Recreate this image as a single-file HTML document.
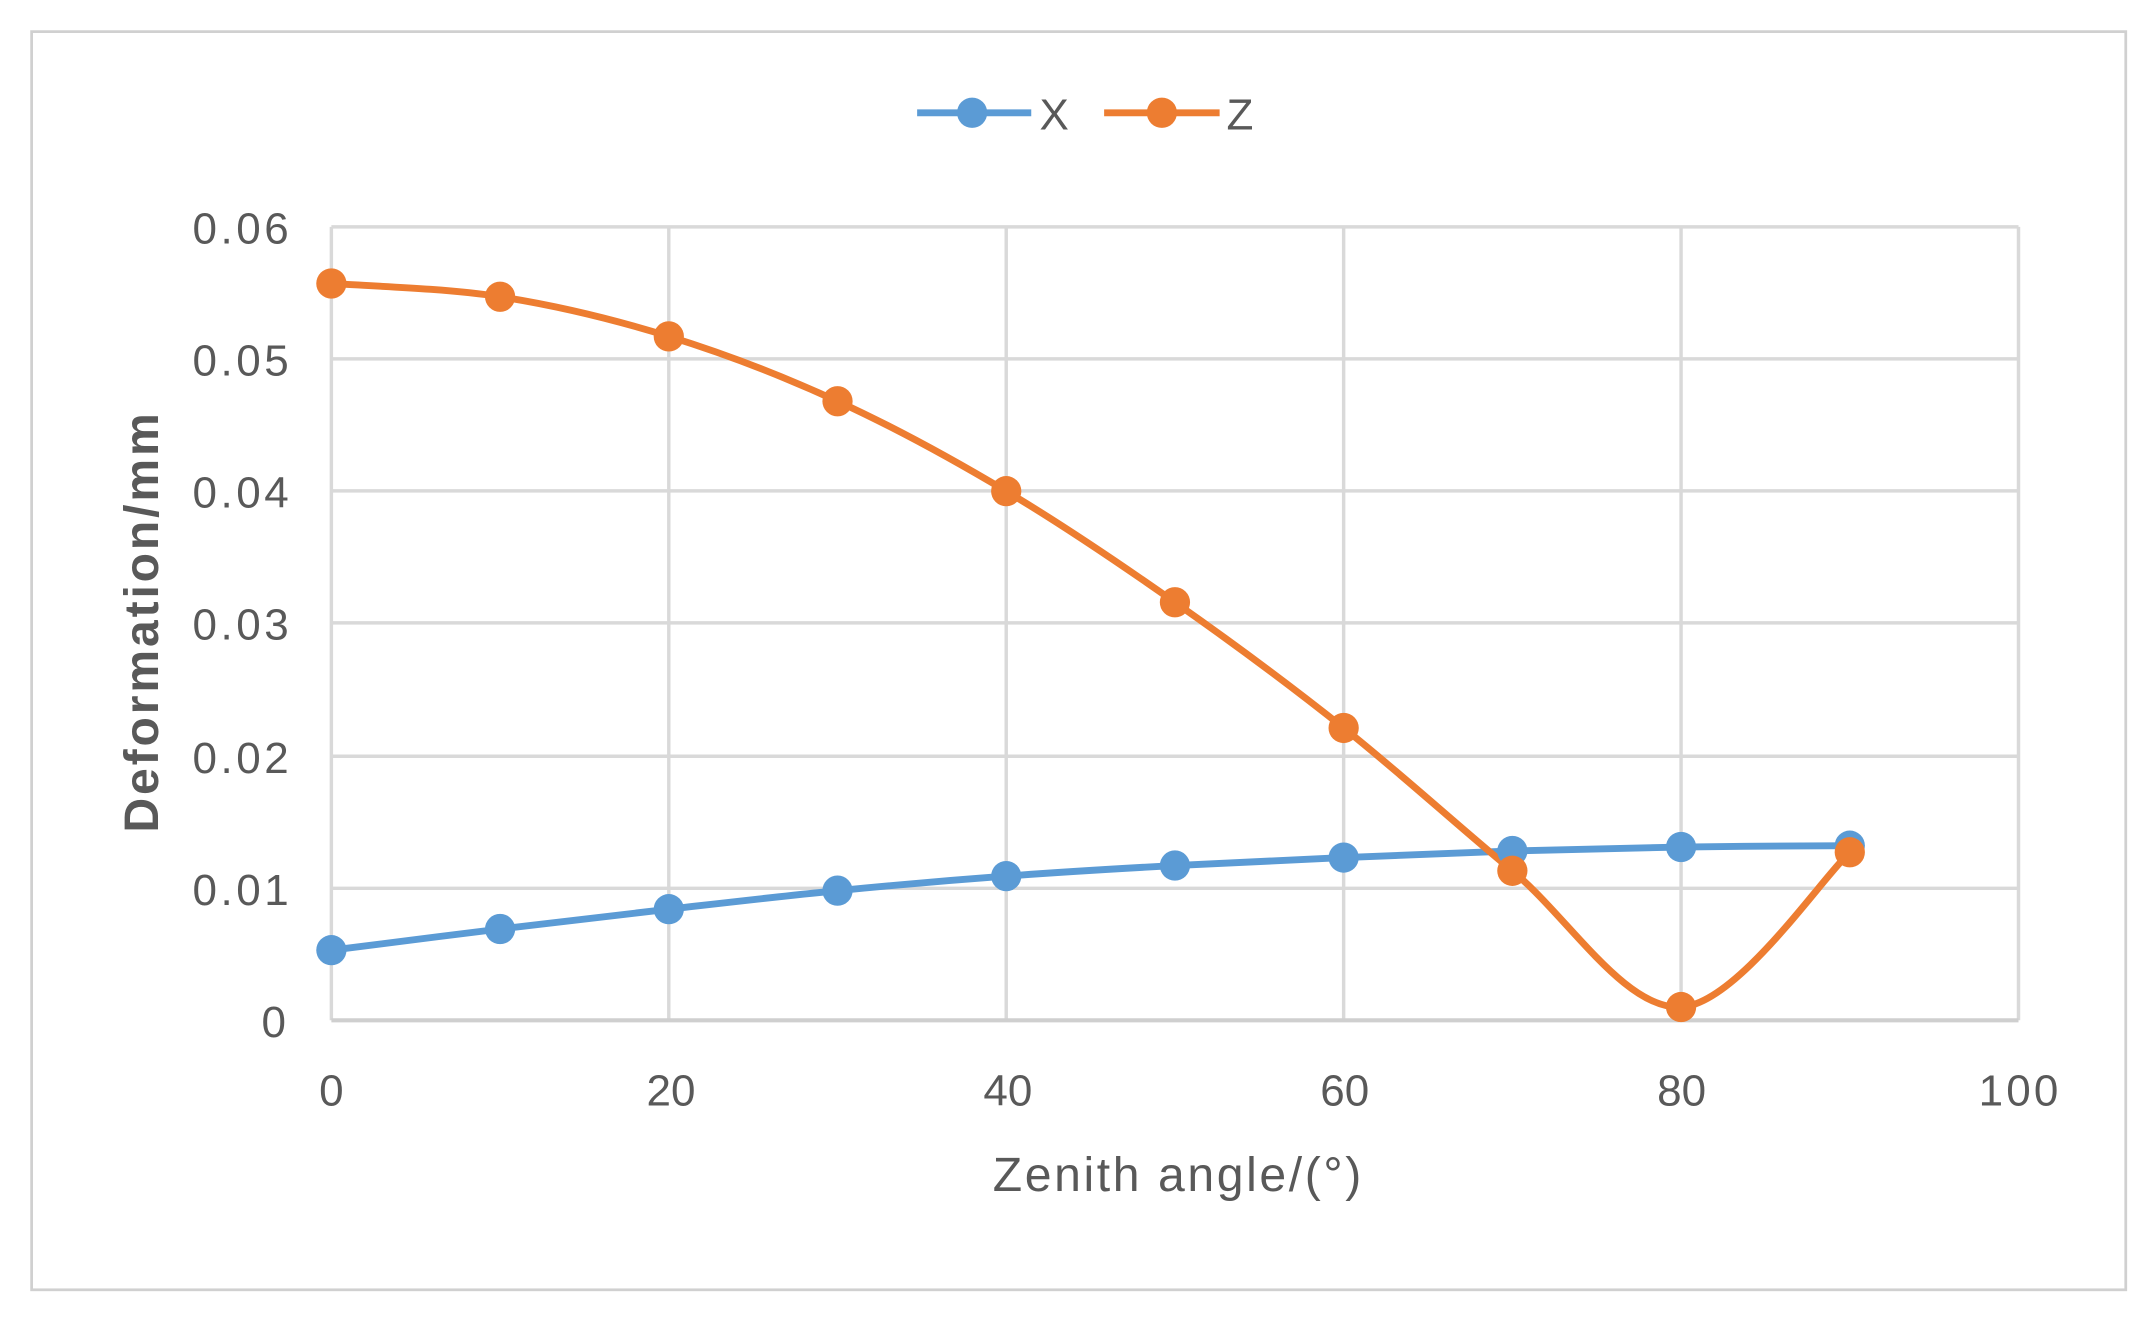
<!DOCTYPE html>
<html><head><meta charset="utf-8"><style>
html,body{margin:0;padding:0;background:#fff;}
svg{display:block;}
text{font-family:"Liberation Sans",sans-serif;fill:#595959;}
</style></head><body>
<svg id="s" width="2156" height="1325" viewBox="0 0 1568 963.6" preserveAspectRatio="none" xmlns="http://www.w3.org/2000/svg">
<rect x="0" y="0" width="1568" height="963.6" fill="#fff"/>
<rect x="23" y="23" width="1523" height="915" fill="#fff" stroke="#d0d0d0" stroke-width="2"/>
<g stroke="#d9d9d9" stroke-width="2.5">
<line x1="241" y1="165" x2="1468" y2="165"/>
<line x1="241" y1="261" x2="1468" y2="261"/>
<line x1="241" y1="357" x2="1468" y2="357"/>
<line x1="241" y1="453" x2="1468" y2="453"/>
<line x1="241" y1="550" x2="1468" y2="550"/>
<line x1="241" y1="646" x2="1468" y2="646"/>
<line x1="241" y1="165" x2="241" y2="742"/>
<line x1="486.4" y1="165" x2="486.4" y2="742"/>
<line x1="731.8" y1="165" x2="731.8" y2="742"/>
<line x1="977.2" y1="165" x2="977.2" y2="742"/>
<line x1="1222.6" y1="165" x2="1222.6" y2="742"/>
<line x1="1468" y1="165" x2="1468" y2="742"/>
</g>
<line x1="241" y1="742" x2="1468" y2="742" stroke="#cfcfcf" stroke-width="3"/>
<g font-size="32" text-anchor="end">
<text x="210" y="177" textLength="70">0.06</text>
<text x="210" y="273" textLength="70">0.05</text>
<text x="210" y="369" textLength="70">0.04</text>
<text x="210" y="465" textLength="70">0.03</text>
<text x="210" y="562" textLength="70">0.02</text>
<text x="210" y="658" textLength="70">0.01</text>
<text x="208" y="754">0</text>
</g>
<g font-size="32" text-anchor="middle">
<text x="241" y="804">0</text>
<text x="488" y="804">20</text>
<text x="733" y="804">40</text>
<text x="978" y="804">60</text>
<text x="1223" y="804">80</text>
<text x="1468" y="804" textLength="58">100</text>
<text x="856" y="866" font-size="35" textLength="268">Zenith angle/(°)</text>
<text transform="translate(115,453) rotate(-90)" font-size="35" font-weight="bold" textLength="305">Deformation/mm</text>
</g>
<path id="px" fill="none" stroke="#5B9BD5" stroke-width="5"/>
<path id="pz" fill="none" stroke="#ED7D31" stroke-width="5"/>
<g id="mk"></g>
<line x1="667" y1="82" x2="750" y2="82" stroke="#5B9BD5" stroke-width="5"/>
<circle cx="707" cy="82" r="11" fill="#5B9BD5"/>
<text x="756" y="94" font-size="32">X</text>
<line x1="803" y1="82" x2="887" y2="82" stroke="#ED7D31" stroke-width="5"/>
<circle cx="845" cy="82" r="11" fill="#ED7D31"/>
<text x="892" y="94" font-size="32">Z</text>
</svg>
<script>
var xs=[],i;for(i=0;i<10;i++)xs.push(241+122.7*i);
var X=[.0053,.0069,.0084,.0098,.0109,.0117,.0123,.0128,.0131,.0132];
var Z=[.0557,.0547,.0517,.0468,.0400,.0316,.0221,.0113,.0010,.0127];
function Y(v){return 742-v*9620;}
function path(d){var p=d.map(function(v,i){return [xs[i],Y(v)]});var s="M"+p[0][0]+","+p[0][1];
for(var i=0;i<p.length-1;i++){var a=p[Math.max(i-1,0)],b=p[i],c=p[i+1],e=p[Math.min(i+2,p.length-1)];
s+=" C"+(b[0]+(c[0]-a[0])/6)+","+(b[1]+(c[1]-a[1])/6)+" "+(c[0]-(e[0]-b[0])/6)+","+(c[1]-(e[1]-b[1])/6)+" "+c[0]+","+c[1];}return s;}
document.getElementById("px").setAttribute("d",path(X));
document.getElementById("pz").setAttribute("d",path(Z));
var g=document.getElementById("mk"),ns="http://www.w3.org/2000/svg";
[[X,"#5B9BD5"],[Z,"#ED7D31"]].forEach(function(q){q[0].forEach(function(v,i){var c=document.createElementNS(ns,"circle");c.setAttribute("cx",xs[i]);c.setAttribute("cy",Y(v));c.setAttribute("r",11);c.setAttribute("fill",q[1]);g.appendChild(c);});});
</script>
</body></html>
